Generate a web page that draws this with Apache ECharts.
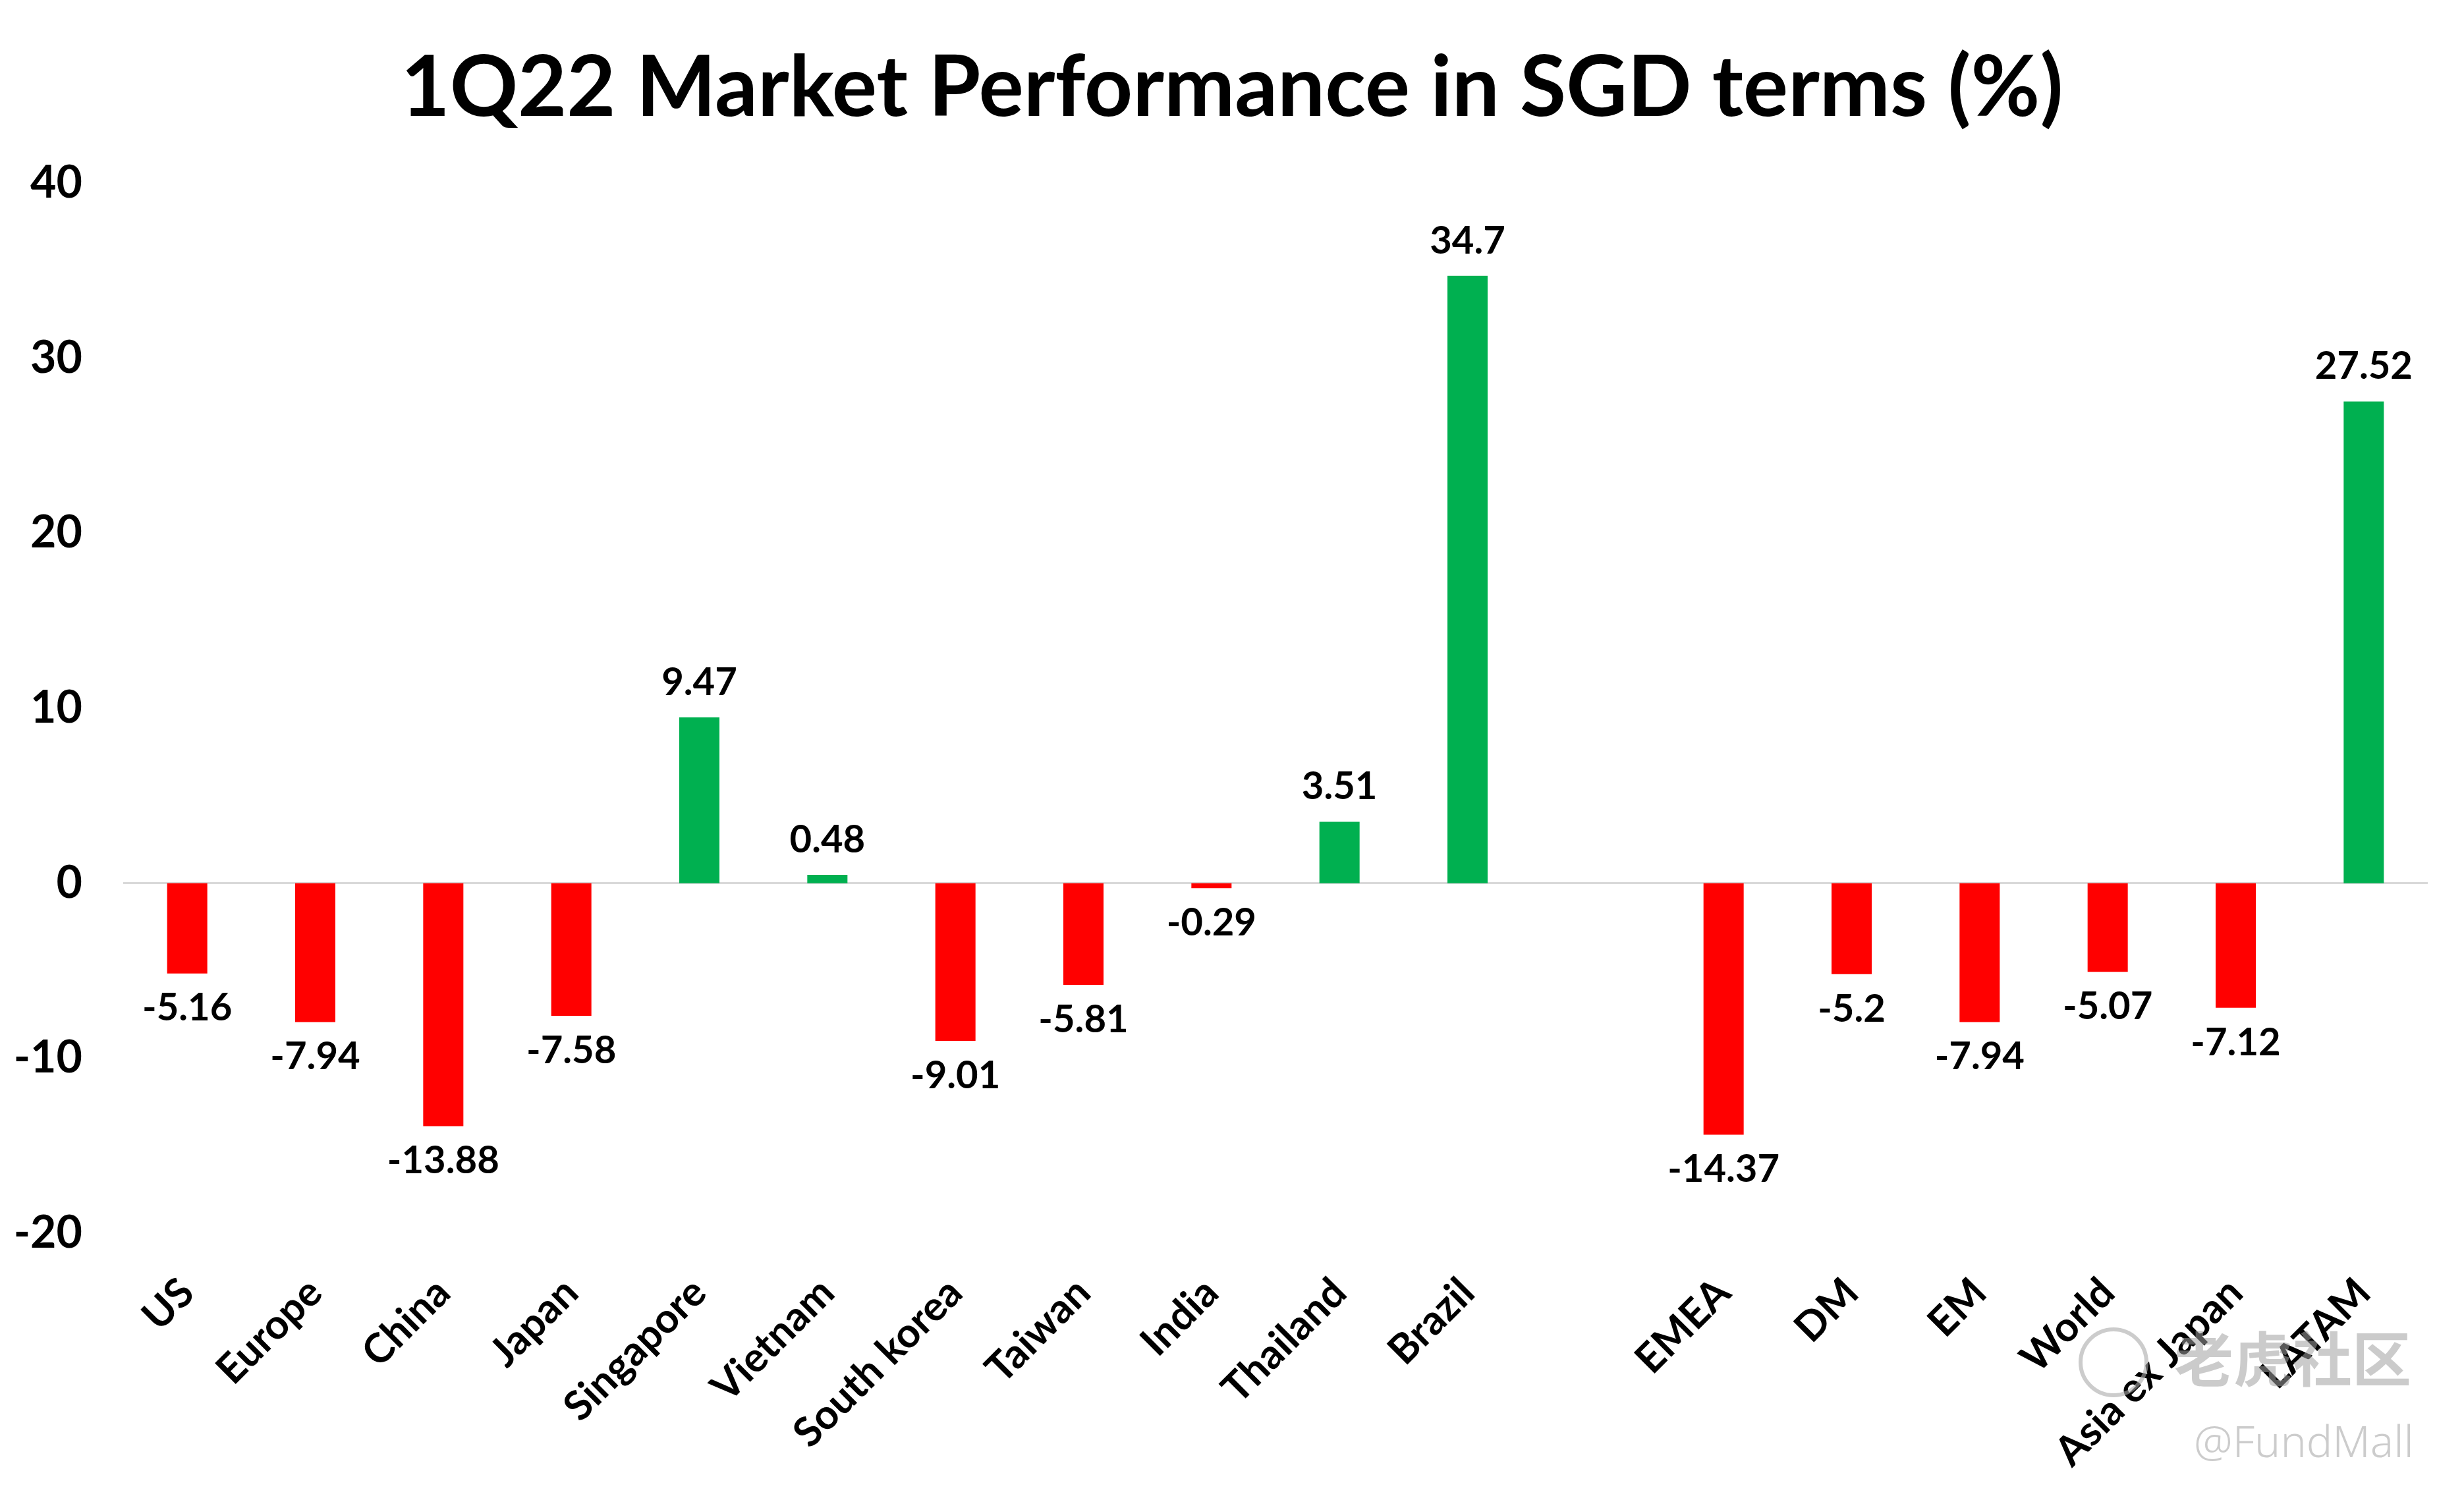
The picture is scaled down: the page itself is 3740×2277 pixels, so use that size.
<!DOCTYPE html>
<html><head><meta charset="utf-8">
<script src="https://cdn.jsdelivr.net/npm/echarts@6/dist/echarts.min.js"></script>
<style>html,body{margin:0;padding:0;background:#fff}#c{width:3740px;height:2277px}</style>
</head><body><div id="c"></div>
<script>
const categories = ['US','Europe','China','Japan','Singapore','Vietnam','South korea','Taiwan','India','Thailand','Brazil','','EMEA','DM','EM','World','Asia ex Japan','LATAM'];
const values = [-5.16,-7.94,-13.88,-7.58,9.47,0.48,-9.01,-5.81,-0.29,3.51,34.7,null,-14.37,-5.2,-7.94,-5.07,-7.12,27.52];
const yTicks = [-20,-10,0,10,20,30,40];
const titleText = '1Q22 Market Performance in SGD terms (%)';

const FONT = 'Lato';
const chart = echarts.init(document.getElementById('c'));
chart.setOption({
  backgroundColor:'#ffffff',
  animation:false,
  title:{text:titleText,left:'center',top:66,textStyle:{fontFamily:FONT,fontWeight:'bold',fontSize:128,color:'#000'}},
  grid:{left:187,right:55,top:278,bottom:405,containLabel:false},
  xAxis:{type:'category',data:categories,
    axisLine:{show:false,onZero:false},axisTick:{show:false},
    axisLabel:{interval:0,rotate:45,margin:80,fontFamily:FONT,fontWeight:'bold',fontSize:62,color:'#000'}},
  yAxis:{type:'value',min:yTicks[0],max:yTicks[yTicks.length-1],interval:10,
    axisLine:{show:false},axisTick:{show:false},splitLine:{show:false},
    axisLabel:{margin:62,fontFamily:FONT,fontWeight:'bold',fontSize:68,color:'#000'}},
  series:[{type:'bar',barWidth:61,
    data:values.map(v=>v===null?null:{value:v,itemStyle:{color:v<0?'#FF0000':'#00B050'}}),
    label:{show:true,position:'outside',distance:24,fontFamily:FONT,fontWeight:'bold',fontSize:58,color:'#000',
      formatter:p=>p.value==null?'':String(p.value)},
    markLine:{silent:true,symbol:'none',label:{show:false},z:1,
      lineStyle:{color:'#D9D9D9',type:'solid',width:3},data:[{yAxis:0}]}
  }],
  graphic:[
    {type:'circle',shape:{cx:3208,cy:2068,r:50},style:{fill:'none',stroke:'rgba(170,170,170,0.6)',lineWidth:6},z:100},
    {type:'text',left:3300,top:2018,style:{text:'老虎社区',font:'bold 90px "Noto Sans CJK SC"',fill:'rgba(160,160,160,0.55)'},z:100},
    {type:'text',left:3330,top:2160,style:{text:'@FundMall',font:'300 66px "Noto Sans"',fill:'rgba(170,170,170,0.6)'},z:100}
  ]
});
</script></body></html>
